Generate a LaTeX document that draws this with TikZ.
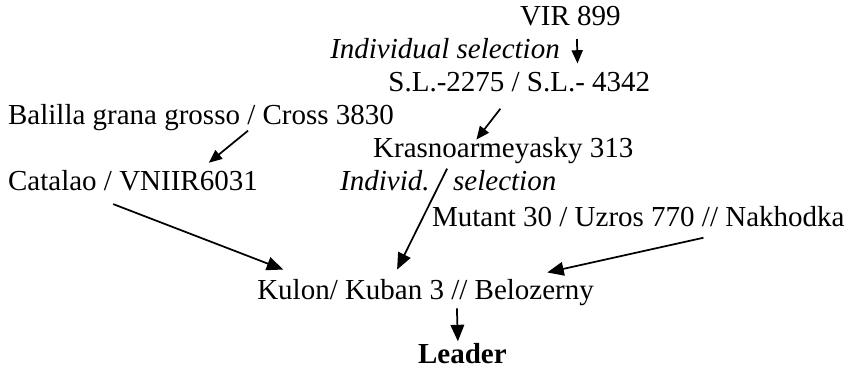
\documentclass[tikz,border=0pt]{standalone}
\usepackage{fontspec}
\setmainfont{Liberation Serif}
\usepackage{tikz}
\usetikzlibrary{arrows.meta,calc}

\begin{document}
\begin{tikzpicture}[
    >={Triangle[length=0.4cm, width=0.33cm]},
    txt/.style={anchor=base west, inner sep=0pt, font=\fontsize{20}{24}\selectfont},
    sel/.style={txt, font=\fontsize{20}{24}\selectfont\itshape},
    arrow/.style={->, line width=1.2pt},
    small/.style={-{Triangle[length=0.32cm, width=0.27cm]}, line width=1.2pt}
]
\useasboundingbox (0,0) rectangle (20.68,-8.99);

\node[txt] (vir) at (12.60,-0.63) {VIR 899};
\node[sel] (insel) at (8.00,-1.41) {Individual selection};
\node[txt] (sl) at (9.41,-2.23) {S.L.-2275 / S.L.- 4342};
\node[txt] (balilla) at (0.19,-3.01) {Balilla grana grosso / Cross 3830};
\node[txt] (krasno) at (9.04,-3.83) {Krasnoarmeyasky 313};
\node[txt] (catalao) at (0.19,-4.61) {Catalao / VNIIR6031};
\node[sel] (individ) at (8.24,-4.61) {Individ.};
\node[sel] (selec) at (10.98,-4.61) {selection};
\node[txt] (mutant) at (10.47,-5.48) {Mutant 30 / Uzros 770 // Nakhodka};
\node[txt] (kulon) at (6.23,-7.27) {Kulon/ Kuban 3 // Belozerny};
\node[txt, font=\fontsize{20}{24}\selectfont\bfseries] (leader) at (10.13,-8.82) {Leader};

% selections
\draw[small] ($(vir.south)+(0.16,-0.30)$) -- ($(sl.north)+(1.41,0.22)$);
\draw[small] ($(sl.south)+(-0.46,-0.39)$) -- ($(krasno.north)+(-0.65,-0.05)$);
\draw[small] ($(balilla.south)+(1.14,0)$) -- ($(catalao.north)+(1.84,0.17)$);

% crosses
\draw[arrow] ($(krasno.south)+(-1.36,-0.10)$) -- ($(kulon.north)+(-0.69,0.24)$);
\draw[arrow] ($(catalao.south)+(-0.48,-0.32)$) -- ($(kulon.north)+(-3.45,0.24)$);
\draw[arrow] ($(mutant.south)+(1.58,-0.27)$) -- ($(kulon.north)+(2.95,0.17)$);
\draw[arrow] ($(kulon.south)+(0.76,-0.05)$) -- ($(leader.north)+(-0.11,0.05)$);
\end{tikzpicture}
\end{document}
